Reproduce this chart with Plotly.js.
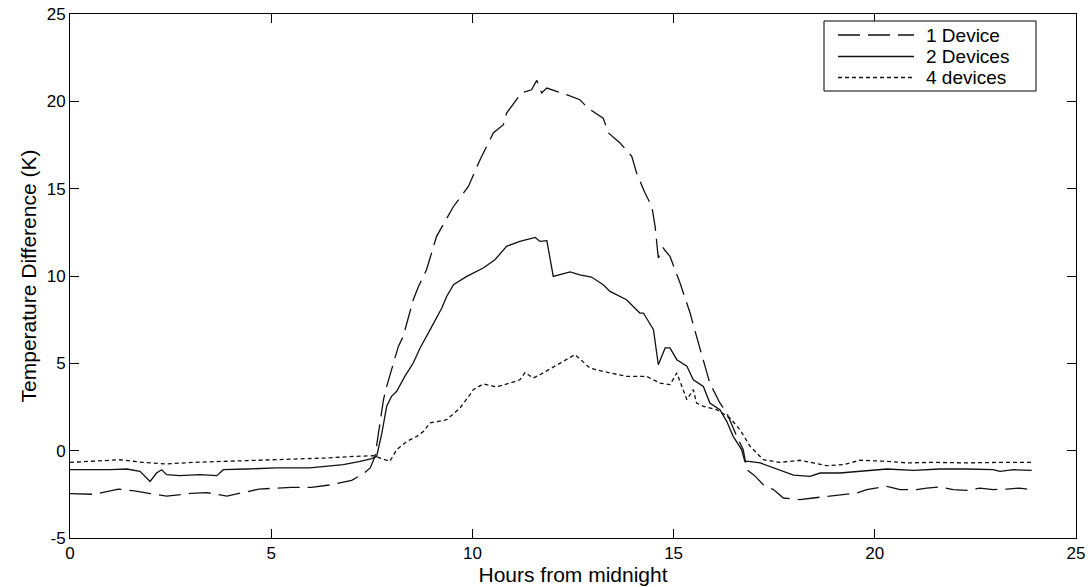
<!DOCTYPE html>
<html>
<head>
<meta charset="utf-8">
<script src="https://cdn.plot.ly/plotly-3.0.1.min.js"></script>
<style>html,body{margin:0;padding:0;background:#fff;}#chart{width:1092px;height:587px;}</style>
</head>
<body>
<div id="chart"></div>
<script>
// Series names
const seriesNames = ["1 Device", "2 Devices", "4 devices"];

// 1 Device (dashed)
const hours1 = [0, 0.6, 1.2, 1.6, 2.0, 2.4, 3.0, 3.4, 3.9, 4.7, 5.5, 6.0, 6.5, 7.0, 7.3, 7.46, 7.58, 7.66, 7.79, 7.87, 8.03, 8.16, 8.28, 8.45, 8.53, 8.66, 8.86, 9.11, 9.53, 9.9, 10.19, 10.52, 10.77, 10.85, 11.22, 11.47, 11.6, 11.72, 11.85, 12.34, 12.67, 12.88, 13.25, 13.38, 13.67, 13.96, 14.08, 14.29, 14.46, 14.54, 14.62, 14.74, 14.91, 15.16, 15.41, 15.57, 15.74, 15.9, 16.15, 16.32, 16.57, 16.73, 16.82, 17.0, 17.23, 17.48, 17.73, 18.14, 18.47, 18.8, 19.22, 19.55, 19.8, 20.3, 20.63, 21.04, 21.29, 21.62, 21.95, 22.28, 22.61, 22.94, 23.28, 23.6, 23.9];
const temp1 = [-2.46, -2.5, -2.2, -2.3, -2.46, -2.6, -2.45, -2.4, -2.6, -2.2, -2.1, -2.1, -1.95, -1.7, -1.3, -0.99, -0.33, 1.01, 2.92, 3.68, 5.02, 5.97, 6.54, 7.88, 8.64, 9.4, 10.36, 12.27, 13.98, 15.13, 16.66, 18.19, 18.66, 19.33, 20.48, 20.66, 21.2, 20.48, 20.76, 20.38, 20.09, 19.6, 19.04, 18.19, 17.61, 16.85, 15.9, 14.75, 13.98, 12.84, 11.03, 11.6, 11.12, 9.6, 7.88, 6.54, 5.21, 3.87, 2.73, 2.16, 0.82, 0.06, -1.09, -1.4, -1.95, -2.23, -2.71, -2.8, -2.71, -2.61, -2.52, -2.42, -2.23, -2.04, -2.23, -2.23, -2.14, -2.08, -2.23, -2.27, -2.14, -2.23, -2.2, -2.14, -2.23];

// 2 Devices (solid)
const hours2 = [0, 0.5, 1.0, 1.41, 1.74, 1.99, 2.15, 2.28, 2.4, 2.73, 3.23, 3.65, 3.81, 4.39, 5.14, 5.96, 6.79, 7.21, 7.5, 7.62, 7.75, 7.87, 7.99, 8.12, 8.32, 8.53, 8.7, 8.95, 9.24, 9.36, 9.53, 9.86, 10.27, 10.56, 10.85, 11.18, 11.56, 11.68, 11.85, 12.01, 12.43, 12.67, 12.96, 13.25, 13.42, 13.83, 14.16, 14.25, 14.5, 14.62, 14.79, 14.91, 15.08, 15.33, 15.49, 15.74, 15.9, 16.15, 16.32, 16.48, 16.69, 16.77, 16.86, 17.15, 17.48, 17.98, 18.39, 18.64, 19.13, 19.63, 20.3, 20.96, 21.62, 22.28, 22.94, 23.11, 23.45, 23.9];
const temp2 = [-1.09, -1.1, -1.08, -1.05, -1.18, -1.76, -1.28, -1.09, -1.37, -1.43, -1.37, -1.43, -1.09, -1.05, -0.99, -0.99, -0.8, -0.61, -0.45, -0.33, 1.01, 2.54, 3.11, 3.4, 4.25, 5.02, 5.88, 6.93, 8.17, 8.83, 9.5, 9.98, 10.46, 10.93, 11.7, 11.98, 12.21, 11.98, 12.02, 9.98, 10.23, 10.07, 9.94, 9.5, 9.12, 8.64, 7.88, 7.88, 6.93, 4.92, 5.88, 5.88, 5.21, 4.83, 4.06, 3.68, 2.73, 2.35, 1.68, 0.82, 0.06, -0.61, -0.61, -0.7, -0.99, -1.4, -1.47, -1.28, -1.28, -1.18, -1.05, -1.13, -1.05, -1.05, -1.09, -1.18, -1.09, -1.13];

// 4 devices (dotted)
const hours4 = [0, 0.75, 1.24, 1.81, 2.4, 3.06, 3.89, 4.72, 5.55, 6.38, 7.04, 7.54, 7.95, 8.12, 8.37, 8.62, 8.78, 8.95, 9.36, 9.69, 9.94, 10.02, 10.27, 10.6, 10.93, 11.18, 11.31, 11.51, 11.68, 11.93, 12.09, 12.26, 12.55, 12.92, 13.25, 13.83, 14.33, 14.66, 14.91, 15.08, 15.33, 15.49, 15.57, 15.74, 16.07, 16.4, 16.65, 16.9, 17.23, 17.64, 18.14, 18.47, 18.8, 19.22, 19.63, 20.3, 20.79, 21.45, 22.28, 23.11, 23.9];
const temp4 = [-0.67, -0.57, -0.52, -0.67, -0.76, -0.67, -0.61, -0.52, -0.48, -0.42, -0.33, -0.29, -0.61, 0.06, 0.53, 0.82, 1.1, 1.59, 1.77, 2.44, 3.21, 3.49, 3.82, 3.65, 3.87, 4.06, 4.48, 4.16, 4.35, 4.67, 4.87, 5.11, 5.5, 4.73, 4.54, 4.25, 4.25, 3.87, 3.78, 4.45, 2.92, 3.49, 2.73, 2.54, 2.35, 1.87, 1.2, 0.25, -0.52, -0.67, -0.55, -0.7, -0.86, -0.8, -0.55, -0.61, -0.7, -0.67, -0.7, -0.67, -0.67];

// Axis ticks
const xTicks = [0, 5, 10, 15, 20, 25];
const yTicks = [-5, 0, 5, 10, 15, 20, 25];

const lineColor = '#111';
const dashStyles = ['22px,8px', 'solid', '4px,3px'];
const allHours = [hours1, hours2, hours4];
const allTemps = [temp1, temp2, temp4];

const traces = seriesNames.map((name, i) => ({
  x: allHours[i], y: allTemps[i], name: name, mode: 'lines', showlegend: false,
  line: {color: lineColor, width: 1.3, dash: dashStyles[i]}
}));

const FONT = 'Liberation Sans, Arial, sans-serif';
const axisCommon = {
  showgrid: false, zeroline: false, showline: true, linecolor: '#000', linewidth: 1,
  mirror: 'ticks', ticks: 'inside', ticklen: 9, tickcolor: '#000', tickwidth: 1,
  tickfont: {family: FONT, size: 17, color: '#000'}
};

// Plot-area geometry (pixels) used to place the boxed legend
const W = 1092, H = 587, ML = 70, MR = 16, MT = 14, MB = 49;
const PW = W - ML - MR, PH = H - MT - MB;
const px = v => (v - ML) / PW;
const py = v => 1 - (v - MT) / PH;

const legBox = {x0: 824, x1: 1036, y0: 21, y1: 91};
const legRows = [35, 56.5, 77.5];
const shapes = [{
  type: 'rect', xref: 'paper', yref: 'paper',
  x0: px(legBox.x0), x1: px(legBox.x1), y0: py(legBox.y1), y1: py(legBox.y0),
  line: {color: '#000', width: 1}, fillcolor: '#fff', layer: 'above'
}];
const annotations = [];
seriesNames.forEach((name, i) => {
  shapes.push({
    type: 'line', xref: 'paper', yref: 'paper',
    x0: px(838), x1: px(914), y0: py(legRows[i]), y1: py(legRows[i]),
    line: {color: lineColor, width: 1.3, dash: dashStyles[i]}, layer: 'above'
  });
  annotations.push({
    xref: 'paper', yref: 'paper', x: px(924), y: py(legRows[i]),
    xanchor: 'left', yanchor: 'middle', text: name, showarrow: false,
    font: {family: FONT, size: 19, color: '#000'}
  });
});

const layout = {
  width: W, height: H,
  margin: {l: ML, r: MR, t: MT, b: MB},
  paper_bgcolor: '#fff', plot_bgcolor: '#fff',
  showlegend: false,
  xaxis: Object.assign({}, axisCommon, {
    range: [0, 25], tickvals: xTicks, ticktext: xTicks.map(String),
    title: {text: 'Hours from midnight', font: {family: FONT, size: 21, color: '#000'}, standoff: 0}
  }),
  yaxis: Object.assign({}, axisCommon, {
    range: [-5, 25], tickvals: yTicks, ticktext: yTicks.map(String),
    title: {text: 'Temperature Difference (K)', font: {family: FONT, size: 21, color: '#000'}, standoff: 4}
  }),
  shapes: shapes,
  annotations: annotations
};

Plotly.newPlot('chart', traces, layout, {displayModeBar: false, staticPlot: true});
</script>
</body>
</html>
